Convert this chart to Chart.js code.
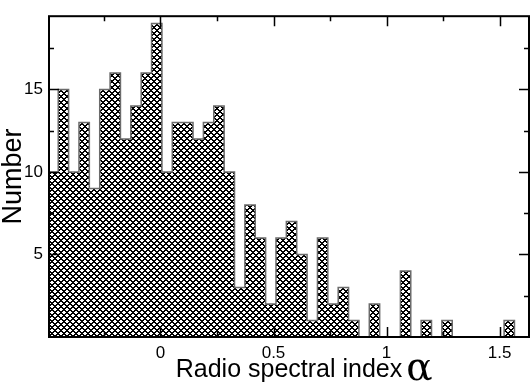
<!DOCTYPE html>
<html>
<head>
<meta charset="utf-8">
<script src="https://cdn.jsdelivr.net/npm/chart.js@4.4.1/dist/chart.umd.min.js"></script>
<style>
  html, body { margin: 0; padding: 0; background: #fff; }
  #c { display: block; }
</style>
</head>
<body>
<canvas id="c" width="531" height="385"></canvas>
<script>
// ---- data ----
const counts = [10,15,10,13,9,15,16,12,14,16,19,10,13,13,12,13,14,10,3,8,
                6,2,6,7,5,1,6,2,3,1,0,2,0,0,4,0,1,0,1,0,
                0,0,0,0,1];
const binStart = -0.498;   // left edge of first bin
const binWidth = 0.04586;  // bin width in alpha
const xMajorTicks = [0, 0.5, 1, 1.5];
const xTickLabels = ['0', '0.5', '1', '1.5'];
const yMajorTicks = [5, 10, 15];
const yTickLabels = ['5', '10', '15'];
const xRange = [-0.493, 1.63];
const yRange = [0, 19.44];

// histogram outline points (left edges + closing edge)
const points = counts.map((c, k) => ({ x: binStart + k * binWidth, y: c }));
points.push({ x: binStart + counts.length * binWidth, y: 0 });

// cross-hatch pattern
function makePattern() {
  const n = 6;
  const tile = document.createElement('canvas');
  tile.width = n; tile.height = n;
  const t = tile.getContext('2d');
  t.fillStyle = '#fff';
  t.fillRect(0, 0, n, n);
  t.fillStyle = '#000';
  for (let x = 0; x < n; x++) {
    for (let y = 0; y < n; y++) {
      const s = (x + y) % n;
      const d = ((x - y) % n + n) % n;
      if (s < 2 || d < 2) t.fillRect(x, y, 1, 1);
    }
  }
  return document.getElementById('c').getContext('2d').createPattern(tile, 'repeat');
}

const framePlugin = {
  id: 'frame',
  afterDatasetsDraw(chart) {
    const { ctx, chartArea: a, scales } = chart;
    const xs = scales.x, ys = scales.y;
    ctx.save();
    ctx.strokeStyle = '#000';
    ctx.lineWidth = 1.5;
    ctx.beginPath();
    for (let v = -0.25; v <= xRange[1] + 1e-9; v += 0.25) {
      const major = xMajorTicks.some(m => Math.abs(m - v) < 1e-6);
      const len = major ? 10 : 5;
      const px = Math.round(xs.getPixelForValue(v)) + 0.5;
      ctx.moveTo(px, a.bottom); ctx.lineTo(px, a.bottom - len);
      ctx.moveTo(px, a.top); ctx.lineTo(px, a.top + len);
    }
    for (let v = 2.5; v <= yRange[1]; v += 2.5) {
      const major = yMajorTicks.some(m => Math.abs(m - v) < 1e-6);
      const len = major ? 10 : 5;
      const py = Math.round(ys.getPixelForValue(v)) + 0.5;
      ctx.moveTo(a.left, py); ctx.lineTo(a.left + len, py);
      ctx.moveTo(a.right, py); ctx.lineTo(a.right - len, py);
    }
    ctx.stroke();
    ctx.lineWidth = 2;
    ctx.strokeRect(a.left, a.top, a.right - a.left, a.bottom - a.top);
    ctx.restore();
  },
  afterDraw(chart) {
    const { ctx, chartArea: a } = chart;
    ctx.save();
    ctx.font = '25px "Liberation Sans", Arial, sans-serif';
    const w = ctx.measureText('Radio spectral index').width;
    const cx = (a.left + a.right) / 2;
    ctx.font = '39px "DejaVu Serif", "Liberation Serif", serif';
    ctx.fillStyle = '#000';
    ctx.textBaseline = 'alphabetic';
    ctx.textAlign = 'left';
    ctx.fillText('α', cx + w / 2 + 4, 380);
    ctx.restore();
  }
};

new Chart(document.getElementById('c'), {
  type: 'line',
  data: {
    datasets: [{
      data: points,
      stepped: 'before',
      fill: 'origin',
      backgroundColor: makePattern(),
      borderColor: '#6b6b6b',
      borderWidth: 1.5,
      pointRadius: 0,
      clip: 0
    }]
  },
  options: {
    responsive: false,
    animation: false,
    events: [],
    layout: { padding: { top: 1, right: 2, left: 0, bottom: 0 } },
    plugins: { legend: { display: false }, tooltip: { enabled: false } },
    scales: {
      x: {
        type: 'linear',
        min: xRange[0], max: xRange[1],
        grid: { display: false, drawTicks: false },
        border: { display: false },
        ticks: {
          stepSize: 0.25,
          includeBounds: false,
          autoSkip: false,
          maxRotation: 0,
          padding: 6,
          color: '#000',
          font: { family: '"Liberation Sans", Arial, sans-serif', size: 17 },
          callback: (v) => {
            const i = xMajorTicks.findIndex(m => Math.abs(m - v) < 1e-6);
            return i >= 0 ? xTickLabels[i] : '';
          }
        },
        title: {
          display: true,
          text: 'Radio spectral index',
          color: '#000',
          font: { family: '"Liberation Sans", Arial, sans-serif', size: 25 },
          padding: { top: 0, bottom: 0 }
        },
        afterFit: (s) => { s.height = 48; }
      },
      y: {
        min: yRange[0], max: yRange[1],
        grid: { display: false, drawTicks: false },
        border: { display: false },
        ticks: {
          stepSize: 2.5,
          includeBounds: false,
          autoSkip: false,
          padding: 6,
          color: '#000',
          font: { family: '"Liberation Sans", Arial, sans-serif', size: 17 },
          callback: (v) => {
            const i = yMajorTicks.findIndex(m => Math.abs(m - v) < 1e-6);
            return i >= 0 ? yTickLabels[i] : '';
          }
        },
        title: {
          display: true,
          text: 'Number',
          color: '#000',
          font: { family: '"Liberation Sans", Arial, sans-serif', size: 27, lineHeight: 1 },
          padding: { top: 0, bottom: 0 }
        },
        afterFit: (s) => { s.width = 49; }
      }
    }
  },
  plugins: [framePlugin]
});
</script>
</body>
</html>
